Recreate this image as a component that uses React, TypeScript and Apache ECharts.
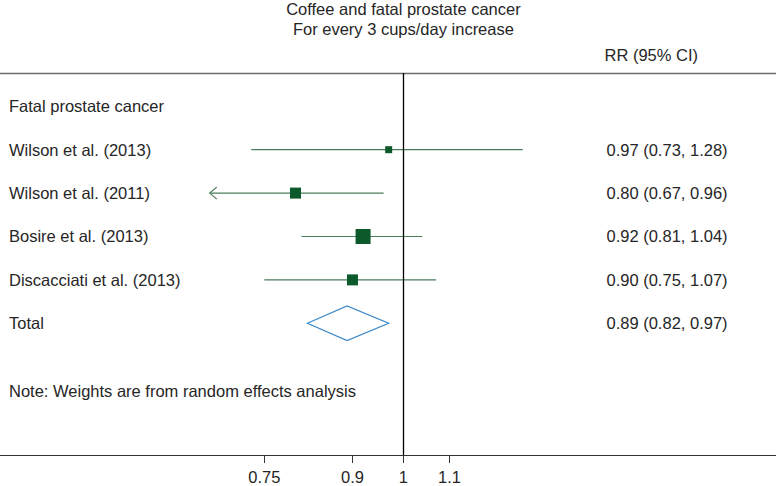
import React, { useEffect, useRef } from 'react';
import * as echarts from 'echarts';

// ---- data ----
const titleLines = ['Coffee and fatal prostate cancer', 'For every 3 cups/day increase'];
const columnHeader = 'RR (95% CI)';
const groupLabel = 'Fatal prostate cancer';
const studyLabels = ['Wilson et al. (2013)', 'Wilson et al. (2011)', 'Bosire et al. (2013)', 'Discacciati et al. (2013)'];
const studyRR = [0.97, 0.8, 0.92, 0.9];
const studyLower = [0.73, 0.67, 0.81, 0.75];
const studyUpper = [1.28, 0.96, 1.04, 1.07];
const studyWeight = [7, 11, 15, 11]; // relative box weight
const studyClippedLow = [false, true, false, false];
const totalLabel = 'Total';
const totalRR = [0.89];
const totalLower = [0.82];
const totalUpper = [0.97];
const noteText = 'Note: Weights are from random effects analysis';
const tickValues = [0.75, 0.9, 1, 1.1];
const tickLabels = ['0.75', '0.9', '1', '1.1'];

// ---- layout / style ----
const FONT = '"Liberation Sans", Arial, Helvetica, sans-serif';
const TEXT = '#262626';
const BOX = '#0c5a2c';
const CI = '#4a7d5c';
const DIAMOND = '#3b87c8';
const FS = 16.5;

const rowPos = [0, 1, 2, 3, 4, 5, 6.55];
const rowText = [groupLabel, ...studyLabels, totalLabel, noteText];
const rrText = [
  ...studyRR.map((v, i) => `${v.toFixed(2)} (${studyLower[i].toFixed(2)}, ${studyUpper[i].toFixed(2)})`),
  `${totalRR[0].toFixed(2)} (${totalLower[0].toFixed(2)}, ${totalUpper[0].toFixed(2)})`,
];
const rrPos = [1, 2, 3, 4, 5];

const X_MIN = -0.8343;
const X_MAX = 0.7706;
const Y_MIN = -0.767;
const Y_MAX = 8.035;

const findIdx = (arr: number[], v: number) => arr.findIndex((p) => Math.abs(p - v) < 1e-6);

export default function App() {
  const ref = useRef<HTMLDivElement>(null);
  useEffect(() => {
    if (!ref.current) return;
    const chart = echarts.init(ref.current, undefined, { renderer: 'svg' });
    const logTicks = tickValues.map((t) => Math.log(t));

    const studyData = studyLabels.map((_, i) => [
      Math.log(studyLower[i]),
      Math.log(studyRR[i]),
      Math.log(studyUpper[i]),
      i + 1,
      studyWeight[i],
      studyClippedLow[i] ? 1 : 0,
    ]);
    const totalData = totalRR.map((v, i) => [Math.log(totalLower[i]), Math.log(v), Math.log(totalUpper[i]), 5]);

    chart.setOption({
      animation: false,
      backgroundColor: '#fff',
      title: [
        {
          text: titleLines.join('\n'),
          left: 403.4,
          textAlign: 'center',
          top: -0.5,
          padding: 0,
          textStyle: { fontFamily: FONT, fontSize: FS, fontWeight: 'normal', color: TEXT, lineHeight: 19.5 },
        },
        {
          text: columnHeader,
          left: 604.5,
          top: 45,
          padding: 0,
          textStyle: { fontFamily: FONT, fontSize: FS, fontWeight: 'normal', color: TEXT, lineHeight: 20 },
        },
      ],
      grid: { left: 0, right: 0, top: 73, bottom: 31, containLabel: false, outerBoundsMode: 'none' },
      xAxis: [
        {
          type: 'value',
          position: 'bottom',
          min: X_MIN,
          max: X_MAX,
          splitLine: { show: false },
          axisLine: { show: true, onZero: false, lineStyle: { color: '#333', width: 1.2 } },
          axisTick: { show: true, length: 8, customValues: logTicks, lineStyle: { color: '#333', width: 1 } },
          axisLabel: {
            show: true,
            margin: 13,
            customValues: logTicks,
            fontFamily: FONT,
            fontSize: FS,
            color: TEXT,
            formatter: (v: number) => {
              const i = findIdx(logTicks, v);
              return i >= 0 ? tickLabels[i] : '';
            },
          },
        },
        {
          type: 'value',
          position: 'top',
          min: X_MIN,
          max: X_MAX,
          splitLine: { show: false },
          axisLine: { show: true, onZero: false, lineStyle: { color: '#6a6a6a', width: 1.4 } },
          axisTick: { show: false },
          axisLabel: { show: false },
        },
      ],
      yAxis: [
        {
          type: 'value',
          position: 'left',
          inverse: true,
          min: Y_MIN,
          max: Y_MAX,
          splitLine: { show: false },
          axisLine: { show: false, onZero: false },
          axisTick: { show: false },
          axisLabel: {
            inside: true,
            margin: 9,
            align: 'left',
            customValues: rowPos,
            fontFamily: FONT,
            fontSize: FS,
            color: TEXT,
            formatter: (v: number) => {
              const i = findIdx(rowPos, v);
              return i >= 0 ? rowText[i] : '';
            },
          },
        },
        {
          type: 'value',
          position: 'right',
          offset: -177.5,
          inverse: true,
          min: Y_MIN,
          max: Y_MAX,
          splitLine: { show: false },
          axisLine: { show: false, onZero: false },
          axisTick: { show: false },
          axisLabel: {
            margin: 8,
            align: 'left',
            customValues: rrPos,
            fontFamily: FONT,
            fontSize: FS,
            color: TEXT,
            formatter: (v: number) => {
              const i = findIdx(rrPos, v);
              return i >= 0 ? rrText[i] : '';
            },
          },
        },
      ],
      series: [
        {
          type: 'custom',
          name: 'studies',
          xAxisIndex: 0,
          yAxisIndex: 0,
          data: studyData,
          encode: { x: [0, 1, 2], y: 3 },
          renderItem: (_params: any, api: any) => {
            const y = api.value(3);
            const pLo = api.coord([api.value(0), y]);
            const pEst = api.coord([api.value(1), y]);
            const pHi = api.coord([api.value(2), y]);
            const s = api.value(4);
            const children: any[] = [
              {
                type: 'line',
                shape: { x1: pLo[0], y1: pLo[1], x2: pHi[0], y2: pHi[1] },
                style: { stroke: CI, lineWidth: 1.2 },
              },
              {
                type: 'rect',
                shape: { x: pEst[0] - s / 2, y: pEst[1] - s / 2, width: s, height: s },
                style: { fill: BOX },
              },
            ];
            if (api.value(5)) {
              children.push({
                type: 'polyline',
                shape: { points: [[pLo[0] + 7, pLo[1] - 6], [pLo[0], pLo[1]], [pLo[0] + 7, pLo[1] + 6]] },
                style: { stroke: CI, fill: 'none', lineWidth: 1.2 },
              });
            }
            return { type: 'group', children };
          },
          z: 3,
        },
        {
          type: 'custom',
          name: 'total',
          xAxisIndex: 0,
          yAxisIndex: 0,
          data: totalData,
          encode: { x: [0, 1, 2], y: 3 },
          renderItem: (_params: any, api: any) => {
            const y = api.value(3);
            const h = 0.4;
            const a = api.coord([api.value(0), y]);
            const b = api.coord([api.value(1), y - h]);
            const c = api.coord([api.value(2), y]);
            const d = api.coord([api.value(1), y + h]);
            return {
              type: 'polygon',
              shape: { points: [a, b, c, d] },
              style: { stroke: DIAMOND, fill: 'none', lineWidth: 1.2 },
            };
          },
          markLine: {
            silent: true,
            symbol: 'none',
            label: { show: false },
            lineStyle: { color: '#000', width: 1.3, type: 'solid' },
            data: [{ xAxis: 0 }],
          },
          z: 3,
        },
      ],
    });
    return () => chart.dispose();
  }, []);

  return (
    <div
      ref={ref}
      style={{ position: 'fixed', left: 0, top: 0, width: 776, height: 486, background: '#fff' }}
    />
  );
}
